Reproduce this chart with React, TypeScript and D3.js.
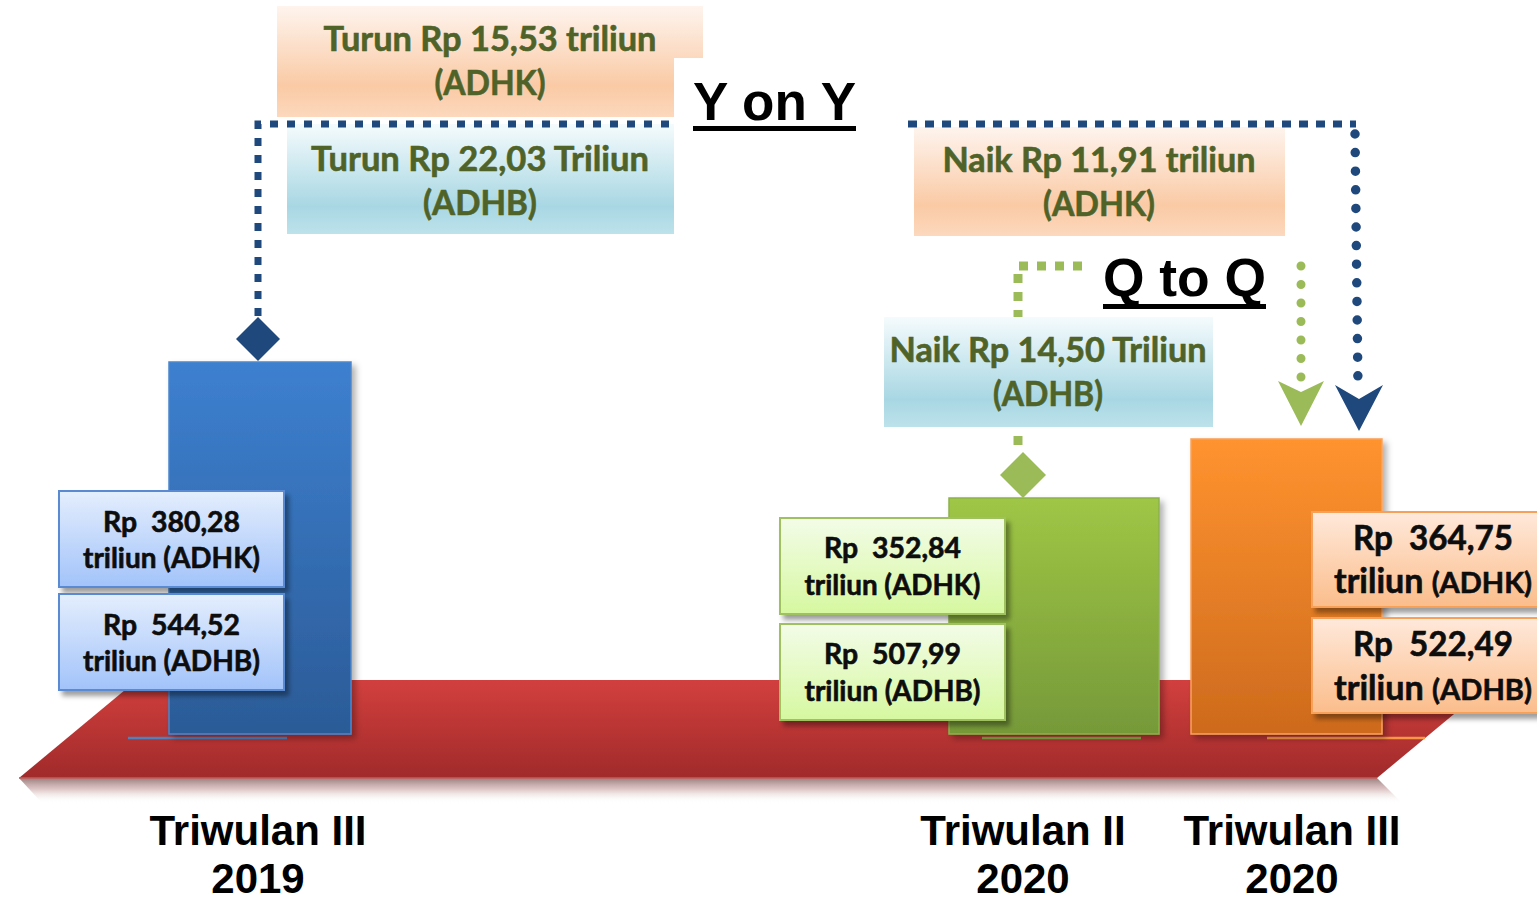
import React from "react";
import * as d3 from "d3";

// ---------- data ----------
const catLine1 = ["Triwulan III", "Triwulan II", "Triwulan III"];
const catLine2 = ["2019", "2020", "2020"];
const adhk = [380.28, 352.84, 364.75];
const adhb = [544.52, 507.99, 522.49];
const changeNames = ["Y on Y", "Q to Q"];
const changeAdhk = [-15.53, 11.91];
const changeAdhb = [-22.03, 14.5];

// ---------- layout ----------
const W = 1537;
const H = 902;
const barLeft = [169, 949, 1191];
const barWidth = [182, 210, 191];
const labelX = [258, 1023, 1292];
const underLine = [
  [128, 287],
  [982, 1141],
  [1267, 1425],
];
const valueBox = [
  { x: 59, w: 225, y1: 491, y2: 594, h: 96, fs: 28, fs2: 28, w1: 137, w2: 177, b1: 41, b2: 77 },
  { x: 780, w: 225, y1: 518, y2: 624, h: 96, fs: 28, fs2: 28, w1: 137, w2: 176, b1: 40, b2: 77 },
  { x: 1312, w: 242, y1: 512, y2: 618, h: 95, fs: 34, fs2: 29, w1: 160, w2: 198, b1: 38, b2: 81 },
];
const palette = [
  { top: "#3d80d0", bot: "#2b5b97", stroke: "#4a86cc", boxTop: "#e4eefd", boxBot: "#a2c3fa", boxStroke: "#5a8ad2", under: "#4f81bd" },
  { top: "#9fc645", bot: "#769939", stroke: "#8db24c", boxTop: "#f3fce8", boxBot: "#d6f8a0", boxStroke: "#9fc160", under: "#86ac48" },
  { top: "#ff932f", bot: "#cd6a1d", stroke: "#f9a35e", boxTop: "#ffe9db", boxBot: "#fbbd8b", boxStroke: "#f6a05a", under: "#f79646" },
];
const annot = [
  {
    k: { x: 277, y: 6, w: 426, h: 111, cx: 490, b1: 51, b2: 95, w1: 333, w2: 111 },
    b: { x: 287, y: 124, w: 387, h: 110, cx: 480, b1: 171, b2: 215, w1: 338, w2: 114 },
    title: { x: 693, base: 120, w: 163, ul: 126 },
  },
  {
    k: { x: 914, y: 127, w: 371, h: 109, cx: 1099, b1: 172, b2: 216, w1: 313, w2: 112 },
    b: { x: 884, y: 317, w: 329, h: 110, cx: 1048, b1: 362, b2: 406, w1: 317, w2: 110 },
    title: { x: 1103, base: 296, w: 163, ul: 304 },
  },
];

const idLocale = d3.formatLocale({ decimal: ",", thousands: ".", grouping: [3], currency: ["Rp", ""] });
const fmt = idLocale.format(".2f");

// bars share a common floor; heights follow the ADHK values
const yScale = d3.scaleLinear().domain([352.84, 380.28]).range([498, 362]);
const FLOOR = 734;

const BOX_FONT = "Lato, 'Open Sans', 'Noto Sans', sans-serif";
const ARIAL = "'Liberation Sans', Arial, sans-serif";
const GREEN_TXT = "#4f6228";
const NAVY = "#1f497d";
const LGREEN = "#9bbb59";

export default function App() {
  const tops = adhk.map((v) => yScale(v));
  const bottom = FLOOR;
  const diamond = (cx: number, cy: number, r: number) =>
    `M${cx},${cy - r} L${cx + r},${cy} L${cx},${cy + r} L${cx - r},${cy} Z`;
  const arrowHead = (tx: number, ty: number, w: number, back: number, notch: number) =>
    `M${tx - w},${ty - back} L${tx},${ty - notch} L${tx + w},${ty - back} L${tx},${ty} Z`;

  const blueTipX = 1359;
  const blueTipY = tops[2] - 8;
  const greenTipX = 1301;
  const greenTipY = tops[2] - 13;

  const changeText = (v: number, unit: string) =>
    `${v < 0 ? "Turun" : "Naik"} Rp ${fmt(Math.abs(v))} ${unit}`;

  return (
    <svg
      width={W}
      height={H}
      viewBox={`0 0 ${W} ${H}`}
      style={{ position: "absolute", left: 0, top: 0, background: "#fff" }}
    >
      <defs>
        <linearGradient id="plat" x1="0" y1="0" x2="0" y2="1">
          <stop offset="0" stopColor="#d2403e" />
          <stop offset="1" stopColor="#a12a2a" />
        </linearGradient>
        <linearGradient id="platSh" x1="0" y1="0" x2="0" y2="1">
          <stop offset="0" stopColor="#8e7070" stopOpacity="0.9" />
          <stop offset="0.45" stopColor="#c9a0a0" stopOpacity="0.6" />
          <stop offset="1" stopColor="#ffffff" stopOpacity="0" />
        </linearGradient>
        {palette.map((p, i) => (
          <linearGradient key={"bg" + i} id={"bar" + i} x1="0" y1="0" x2="0" y2="1">
            <stop offset="0" stopColor={p.top} />
            <stop offset="1" stopColor={p.bot} />
          </linearGradient>
        ))}
        {palette.map((p, i) => (
          <linearGradient key={"vb" + i} id={"vbox" + i} x1="0" y1="0" x2="0" y2="1">
            <stop offset="0" stopColor={p.boxTop} />
            <stop offset="1" stopColor={p.boxBot} />
          </linearGradient>
        ))}
        <linearGradient id="annK" x1="0" y1="0" x2="0" y2="1">
          <stop offset="0" stopColor="#fef4ee" />
          <stop offset="0.72" stopColor="#facaa5" />
          <stop offset="1" stopColor="#fcd8bd" />
        </linearGradient>
        <linearGradient id="annB" x1="0" y1="0" x2="0" y2="1">
          <stop offset="0" stopColor="#f5fbfd" />
          <stop offset="0.75" stopColor="#a8d7e3" />
          <stop offset="1" stopColor="#bde2eb" />
        </linearGradient>
        <filter id="sh" x="-10%" y="-10%" width="130%" height="140%">
          <feDropShadow dx="4" dy="5" stdDeviation="2.5" floodColor="#000" floodOpacity="0.38" />
        </filter>
        <filter id="shBar" x="-10%" y="-10%" width="130%" height="130%">
          <feDropShadow dx="4" dy="4" stdDeviation="3" floodColor="#000" floodOpacity="0.3" />
        </filter>
      </defs>

      {/* platform */}
      <polygon points="19,778 1377,778 1402,803 42,803" fill="url(#platSh)" />
      <polygon points="137,680 1495,680 1377,778 19,778" fill="url(#plat)" />
      <line x1="19" y1="778" x2="1377" y2="778" stroke="#c85a5a" strokeWidth="1.5" />

      {/* under lines */}
      {underLine.map((u, i) => (
        <line key={"ul" + i} x1={u[0]} x2={u[1]} y1={bottom + 4} y2={bottom + 4} stroke={palette[i].under} strokeWidth={2.5} />
      ))}

      {/* bars */}
      {adhk.map((v, i) => (
        <rect
          key={"bar" + i}
          x={barLeft[i]}
          y={tops[i]}
          width={barWidth[i]}
          height={bottom - tops[i]}
          fill={`url(#bar${i})`}
          stroke={palette[i].stroke}
          strokeWidth={1.5}
          filter="url(#shBar)"
        />
      ))}

      {/* diamonds */}
      <path d={diamond(labelX[0], tops[0] - 23, 22)} fill={NAVY} />
      <path d={diamond(labelX[1], tops[1] - 23, 23)} fill={LGREEN} />

      {/* green Q-to-Q connector (partly behind box) */}
      <path
        d={`M1082,266 H1018 V${tops[1] - 46}`}
        fill="none"
        stroke={LGREEN}
        strokeWidth={9}
        strokeDasharray="9 9"
      />

      {/* annotation boxes */}
      {annot.map((a, i) => (
        <g key={"ann" + i}>
          <rect x={a.k.x} y={a.k.y} width={a.k.w} height={a.k.h} fill="url(#annK)" />
          <rect x={a.b.x} y={a.b.y} width={a.b.w} height={a.b.h} fill="url(#annB)" />
          <g
            fontFamily={BOX_FONT}
            fontWeight={700}
            fontSize={34}
            fill={GREEN_TXT}
            stroke={GREEN_TXT}
            strokeWidth={0.6}
            textAnchor="middle"
          >
            <text x={a.k.cx} y={a.k.b1} textLength={a.k.w1} lengthAdjust="spacingAndGlyphs">
              {changeText(changeAdhk[i], "triliun")}
            </text>
            <text x={a.k.cx} y={a.k.b2} textLength={a.k.w2} lengthAdjust="spacingAndGlyphs">
              (ADHK)
            </text>
            <text x={a.b.cx} y={a.b.b1} textLength={a.b.w1} lengthAdjust="spacingAndGlyphs">
              {changeText(changeAdhb[i], "Triliun")}
            </text>
            <text x={a.b.cx} y={a.b.b2} textLength={a.b.w2} lengthAdjust="spacingAndGlyphs">
              (ADHB)
            </text>
          </g>
        </g>
      ))}

      {/* Y on Y connector */}
      <path
        d={`M${labelX[0]},${tops[0] - 46} V124 H673`}
        fill="none"
        stroke={NAVY}
        strokeWidth={7}
        strokeDasharray="8 9"
      />
      <path d="M908,124 H1356" fill="none" stroke={NAVY} strokeWidth={7} strokeDasharray="9 8" />
      <path
        d={`M1355,134 L1358,${blueTipY - 44}`}
        fill="none"
        stroke={NAVY}
        strokeWidth={9.5}
        strokeLinecap="round"
        strokeDasharray="0 18.6"
      />
      <path d={arrowHead(blueTipX, blueTipY, 24, 46, 32)} fill={NAVY} />

      {/* Q to Q arrow */}
      <path
        d={`M1301,266 V${greenTipY - 44}`}
        fill="none"
        stroke={LGREEN}
        strokeWidth={9}
        strokeLinecap="round"
        strokeDasharray="0 18.5"
      />
      <path d={arrowHead(greenTipX, greenTipY, 23, 45, 34)} fill={LGREEN} />

      {/* titles */}
      <rect x={674} y={58} width={200} height={62} fill="#fff" />
      {annot.map((a, i) => (
        <g key={"t" + i}>
          <text
            x={a.title.x}
            y={a.title.base}
            fontFamily={ARIAL}
            fontWeight={700}
            fontSize={54}
            fill="#000"
            textLength={a.title.w}
            lengthAdjust="spacingAndGlyphs"
          >
            {changeNames[i]}
          </text>
          <rect x={a.title.x} y={a.title.ul} width={a.title.w} height={5} fill="#000" />
        </g>
      ))}

      {/* value boxes */}
      {valueBox.map((b, i) => {
        const cx = b.x + (i === 2 ? 121 : b.w / 2);
        const boxes = [
          { y: b.y1, num: adhk[i], tag: "(ADHK)" },
          { y: b.y2, num: adhb[i], tag: "(ADHB)" },
        ];
        return (
          <g key={"vb" + i}>
            {boxes.map((bx, j) => (
              <g key={j}>
                <rect
                  x={b.x}
                  y={bx.y}
                  width={b.w}
                  height={b.h}
                  fill={`url(#vbox${i})`}
                  stroke={palette[i].boxStroke}
                  strokeWidth={2}
                  filter="url(#sh)"
                />
                <g
                  fontFamily={BOX_FONT}
                  fontWeight={700}
                  fill="#0d0d0d"
                  stroke="#0d0d0d"
                  strokeWidth={0.6}
                  textAnchor="middle"
                >
                  <text
                    x={cx}
                    y={bx.y + b.b1}
                    fontSize={b.fs}
                    style={{ whiteSpace: "pre" }}
                    textLength={b.w1}
                    lengthAdjust="spacingAndGlyphs"
                  >
                    {`Rp  ${fmt(bx.num)}`}
                  </text>
                  <text
                    x={cx}
                    y={bx.y + b.b2 + (j === 1 && i === 2 ? 1 : 0)}
                    fontSize={b.fs}
                    textLength={b.w2}
                    lengthAdjust="spacingAndGlyphs"
                  >
                    <tspan>triliun </tspan>
                    <tspan fontSize={b.fs2}>{bx.tag}</tspan>
                  </text>
                </g>
              </g>
            ))}
          </g>
        );
      })}

      {/* category labels */}
      {catLine1.map((c, i) => (
        <g key={"cat" + i} fontFamily={ARIAL} fontWeight={700} fontSize={42} fill="#000" textAnchor="middle">
          <text x={labelX[i]} y={845}>
            {c}
          </text>
          <text x={labelX[i]} y={893}>
            {catLine2[i]}
          </text>
        </g>
      ))}
    </svg>
  );
}
